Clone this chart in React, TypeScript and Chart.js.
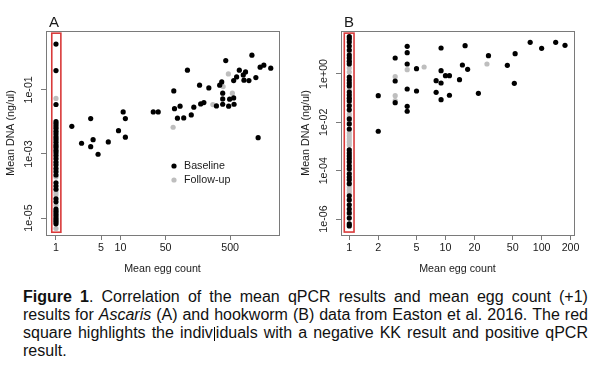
import React, { useEffect, useRef } from "react";
import { Chart, registerables } from "chart.js";

Chart.register(...registerables);

// ---------------- Panel A: Ascaris ----------------
const A_X_TICKS = [1, 5, 10, 50, 500];
const A_X_TICK_LABELS = ["1", "5", "10", "50", "500"];
const A_Y_TICKS = [1e-5, 1e-3, 1e-1];
const A_Y_TICK_LABELS = ["1e-05", "1e-03", "1e-01"];
const A_X_RANGE = [0.745, 2864];
const A_Y_RANGE = [2.95e-6, 6.9];
const A_HIGHLIGHT_X = [0.86, 1.19];
const A_HIGHLIGHT_Y = [3.6e-6, 5.9];

// KK-negative individuals: egg count 0 (+1) = 1
const KK_NEG_EGG_COUNT = 1;
const A_NEG_BASELINE_DNA = [
  2.7, 0.4, 0.035, 0.0102, 0.0087, 0.0074, 0.0063, 0.005, 0.0042, 0.0034, 0.0028,
  0.0023, 0.0019, 0.0016, 0.0013, 0.0011, 8.9e-4, 7.1e-4, 5.6e-4, 4.5e-4, 3.5e-4,
  2.8e-4, 2.2e-4, 1.26e-4, 1.0e-4, 7.9e-5, 4.0e-5, 3.2e-5, 1.9e-5, 1.6e-5, 1.35e-5,
  1.17e-5, 1.0e-5, 8.7e-6, 7.6e-6, 6.6e-6,
];
const A_NEG_FOLLOWUP_DNA = [
  0.054, 0.0054, 0.0032, 0.0018, 5.2e-4, 1.9e-4, 6.3e-5, 5.2e-5, 2.5e-5, 1.7e-5, 4.7e-6,
];
const A_POS_BASELINE_EGGS = [
  1.76, 3.45, 2.49, 3.76, 3.45, 4.49, 6.47, 9.31, 11.0, 11.9, 11.9, 32.2, 38.4, 109, 67,
  68.7, 83.8, 76.4, 95.5, 125, 137, 168, 175, 196, 234, 307, 345, 371, 428, 384, 384,
  384, 475, 492, 568, 576, 568, 631, 695, 800, 868, 820, 979, 1089, 1254, 1461, 1667,
  2134, 1361,
];
const A_POS_BASELINE_DNA = [
  0.0073, 0.0127, 0.00216, 0.0028, 0.00169, 0.00098, 0.00237, 0.00535, 0.0205, 0.0127,
  0.00333, 0.0205, 0.0205, 0.413, 0.0931, 0.026, 0.031, 0.0131, 0.0133, 0.0166, 0.0288,
  0.14, 0.0365, 0.0401, 0.1155, 0.0316, 0.14, 0.178, 0.824, 0.0789, 0.0524, 0.0357,
  0.031, 0.0512, 0.0562, 0.0357, 0.195, 0.255, 0.413, 0.294, 0.365, 0.201, 0.195, 1.21,
  0.242, 0.512, 0.591, 0.476, 0.00323,
];
const A_POS_FOLLOWUP_EGGS = [65.4, 270, 390, 470, 542];
const A_POS_FOLLOWUP_DNA = [0.00683, 0.0347, 0.127, 0.316, 0.0789];

// ---------------- Panel B: hookworm ----------------
const B_X_TICKS = [1, 2, 5, 10, 20, 50, 100, 200];
const B_X_TICK_LABELS = ["1", "2", "5", "10", "20", "50", "100", "200"];
const B_Y_TICKS = [1e-6, 1e-4, 1e-2, 1];
const B_Y_TICK_LABELS = ["1e-06", "1e-04", "1e-02", "1e+00"];
const B_X_RANGE = [0.82, 217];
const B_Y_RANGE = [2.19e-7, 60];
const B_HIGHLIGHT_X = [0.887, 1.12];
const B_HIGHLIGHT_Y = [2.9e-7, 49];

const B_NEG_BASELINE_DNA = [
  35, 28, 21, 14.4, 9.8, 6.1, 4.6, 3.4, 2.6, 0.75, 0.56, 0.42, 0.32, 0.18, 0.135, 0.1,
  0.077, 0.048, 0.033, 0.0138, 0.0086, 0.0053, 7.2e-4, 5.4e-4, 4.1e-4, 3.1e-4, 2.3e-4,
  1.6e-4, 1.2e-4, 7.4e-5, 5.5e-5, 4.2e-5, 2.9e-5, 9.1e-6, 6.2e-6, 3.9e-6, 2.6e-6,
  1.8e-6, 1.1e-6, 6.3e-7, 5.2e-7,
];
const B_NEG_FOLLOWUP_DNA = [
  8.1, 1.77, 1.21, 0.24, 0.058, 0.022, 0.0167, 0.0104, 0.00365, 0.00274, 0.00206,
  0.00155, 0.00116, 9.8e-5, 2.1e-5, 1.6e-5, 1.2e-5, 1.5e-6,
];
const B_POS_BASELINE_EGGS = [
  2, 2, 3, 3, 3, 4, 4, 4, 4, 4, 4, 5, 5, 8, 8, 9, 9, 9, 9, 10, 11, 11, 14, 15, 16, 17,
  22, 28, 44, 52, 53, 76, 100, 140, 175,
];
const B_POS_BASELINE_DNA = [
  0.127, 0.00429, 4.58, 0.514, 0.0652, 13.9, 7.6, 2.59, 0.24, 0.0462, 0.0287, 1.66,
  0.198, 0.529, 0.175, 11.9, 1.37, 0.425, 0.0867, 0.851, 0.851, 0.132, 0.581, 2.35,
  14.8, 1.56, 0.159, 5.7, 2.29, 0.413, 6.9, 20.4, 11.5, 20.4, 15.3,
];
const B_POS_FOLLOWUP_EGGS = [3, 3, 3, 4, 6, 27];
const B_POS_FOLLOWUP_DNA = [0.773, 0.127, 0.0788, 1.51, 1.95, 2.59];

// ---------------- styles ----------------
const FONT = '"Liberation Sans", Arial, Helvetica, sans-serif';
const TEXT = "#1a1a1a";
const AXIS = "#7a7a7a";
const BASE_COLOR = "#000000";
const FOLLOW_COLOR = "#bebebe";
const HIGHLIGHT_COLOR = "#d93a3a";
const AXIS_FONT = 10.7;
const POINT_R = 2.6;

type Spec = {
  letter: string;
  xTicks: number[];
  xTickLabels: string[];
  yTicks: number[];
  yTickLabels: string[];
  xRange: number[];
  yRange: number[];
  hlX: number[];
  hlY: number[];
  negBase: number[];
  negFollow: number[];
  posBaseX: number[];
  posBaseY: number[];
  posFollowX: number[];
  posFollowY: number[];
  legend: boolean;
};

function makeDecor(spec: Spec) {
  return {
    id: "decor" + spec.letter,
    afterDraw(chart: any) {
      const { ctx, chartArea: ca, scales } = chart;
      const xs = scales.x;
      const ys = scales.y;
      ctx.save();
      // plot box
      ctx.strokeStyle = AXIS;
      ctx.lineWidth = 1;
      const l = Math.round(ca.left);
      const t = Math.round(ca.top);
      ctx.strokeRect(l + 0.5, t + 0.5, Math.round(ca.right) - l, Math.round(ca.bottom) - t);
      // highlight rectangle
      const hx0 = xs.getPixelForValue(spec.hlX[0]);
      const hx1 = xs.getPixelForValue(spec.hlX[1]);
      const hy0 = ys.getPixelForValue(spec.hlY[0]);
      const hy1 = ys.getPixelForValue(spec.hlY[1]);
      ctx.strokeStyle = HIGHLIGHT_COLOR;
      ctx.lineWidth = 1.6;
      ctx.strokeRect(hx0, hy1, hx1 - hx0, hy0 - hy1);
      // y tick labels (parallel to axis)
      ctx.fillStyle = TEXT;
      ctx.font = `${AXIS_FONT}px ${FONT}`;
      ctx.textAlign = "center";
      ctx.textBaseline = "middle";
      ys.ticks.forEach((tk: any, i: number) => {
        const py = ys.getPixelForValue(tk.value);
        ctx.save();
        ctx.translate(ca.left - 17, py);
        ctx.rotate(-Math.PI / 2);
        ctx.fillText(spec.yTickLabels[i], 0, 0);
        ctx.restore();
      });
      // panel letter
      ctx.font = `15px ${FONT}`;
      ctx.textAlign = "left";
      ctx.textBaseline = "alphabetic";
      ctx.fillText(spec.letter, ca.left + 3, ca.top - 4);
      // legend
      if (spec.legend) {
        const items = chart.data.datasets;
        ctx.font = `${AXIS_FONT}px ${FONT}`;
        ctx.textBaseline = "middle";
        items.forEach((ds: any, i: number) => {
          const cy = 166 + i * 14;
          ctx.fillStyle = ds.backgroundColor;
          ctx.beginPath();
          ctx.arc(174, cy, POINT_R, 0, Math.PI * 2);
          ctx.fill();
          ctx.fillStyle = TEXT;
          ctx.fillText(ds.label, 184, cy);
        });
      }
      ctx.restore();
    },
  };
}

function buildConfig(spec: Spec): any {
  const baseline = [
    ...spec.negBase.map((y) => ({ x: KK_NEG_EGG_COUNT, y })),
    ...spec.posBaseX.map((x, i) => ({ x, y: spec.posBaseY[i] })),
  ];
  const follow = [
    ...spec.negFollow.map((y) => ({ x: KK_NEG_EGG_COUNT, y })),
    ...spec.posFollowX.map((x, i) => ({ x, y: spec.posFollowY[i] })),
  ];
  const tickFont = { family: FONT, size: AXIS_FONT };
  const grid = {
    drawOnChartArea: false,
    drawTicks: true,
    tickLength: 5,
    color: AXIS,
    lineWidth: 1,
  };
  return {
    type: "scatter",
    data: {
      datasets: [
        {
          label: "Baseline",
          data: baseline,
          backgroundColor: BASE_COLOR,
          borderWidth: 0,
          pointRadius: POINT_R,
          pointHoverRadius: POINT_R,
        },
        {
          label: "Follow-up",
          data: follow,
          backgroundColor: FOLLOW_COLOR,
          borderWidth: 0,
          pointRadius: POINT_R,
          pointHoverRadius: POINT_R,
        },
      ],
    },
    options: {
      animation: false,
      responsive: false,
      maintainAspectRatio: false,
      devicePixelRatio: 1,
      events: [],
      layout: { padding: { left: 0, top: 31, right: 21, bottom: 0 } },
      plugins: { legend: { display: false }, tooltip: { enabled: false } },
      scales: {
        x: {
          type: "logarithmic",
          position: "bottom",
          min: spec.xRange[0],
          max: spec.xRange[1],
          afterBuildTicks: (s: any) => {
            s.ticks = spec.xTicks.map((v) => ({ value: v }));
          },
          afterFit: (s: any) => {
            s.height = 45;
          },
          ticks: {
            autoSkip: false,
            maxRotation: 0,
            minRotation: 0,
            padding: 2,
            color: TEXT,
            font: tickFont,
            callback: (_v: any, i: number) => spec.xTickLabels[i],
          },
          grid,
          border: { display: false },
          title: {
            display: true,
            text: "Mean egg count",
            color: TEXT,
            font: tickFont,
            padding: { top: 0, bottom: 5 },
          },
        },
        y: {
          type: "logarithmic",
          position: "left",
          min: spec.yRange[0],
          max: spec.yRange[1],
          afterBuildTicks: (s: any) => {
            s.ticks = spec.yTicks.map((v) => ({ value: v }));
          },
          afterFit: (s: any) => {
            s.width = 46;
          },
          ticks: {
            autoSkip: false,
            color: "rgba(0,0,0,0)",
            font: tickFont,
            callback: (_v: any, i: number) => spec.yTickLabels[i],
          },
          grid,
          border: { display: false },
          title: {
            display: true,
            text: "Mean DNA (ng/ul)",
            color: TEXT,
            font: tickFont,
            padding: { top: 5, bottom: 0 },
          },
        },
      },
    },
    plugins: [makeDecor(spec)],
  };
}

const SPEC_A: Spec = {
  letter: "A",
  xTicks: A_X_TICKS,
  xTickLabels: A_X_TICK_LABELS,
  yTicks: A_Y_TICKS,
  yTickLabels: A_Y_TICK_LABELS,
  xRange: A_X_RANGE,
  yRange: A_Y_RANGE,
  hlX: A_HIGHLIGHT_X,
  hlY: A_HIGHLIGHT_Y,
  negBase: A_NEG_BASELINE_DNA,
  negFollow: A_NEG_FOLLOWUP_DNA,
  posBaseX: A_POS_BASELINE_EGGS,
  posBaseY: A_POS_BASELINE_DNA,
  posFollowX: A_POS_FOLLOWUP_EGGS,
  posFollowY: A_POS_FOLLOWUP_DNA,
  legend: true,
};

const SPEC_B: Spec = {
  letter: "B",
  xTicks: B_X_TICKS,
  xTickLabels: B_X_TICK_LABELS,
  yTicks: B_Y_TICKS,
  yTickLabels: B_Y_TICK_LABELS,
  xRange: B_X_RANGE,
  yRange: B_Y_RANGE,
  hlX: B_HIGHLIGHT_X,
  hlY: B_HIGHLIGHT_Y,
  negBase: B_NEG_BASELINE_DNA,
  negFollow: B_NEG_FOLLOWUP_DNA,
  posBaseX: B_POS_BASELINE_EGGS,
  posBaseY: B_POS_BASELINE_DNA,
  posFollowX: B_POS_FOLLOWUP_EGGS,
  posFollowY: B_POS_FOLLOWUP_DNA,
  legend: false,
};

function Panel({ spec, left }: { spec: Spec; left: number }) {
  const ref = useRef<HTMLCanvasElement | null>(null);
  useEffect(() => {
    if (!ref.current) return;
    const chart = new Chart(ref.current, buildConfig(spec));
    return () => chart.destroy();
  }, [spec]);
  return (
    <canvas
      ref={ref}
      width={300}
      height={280}
      style={{ position: "absolute", left, top: 0, width: 300, height: 280 }}
    />
  );
}

const LINE_H = 18;

const lineStyle: React.CSSProperties = {
  display: "flex",
  justifyContent: "space-between",
  whiteSpace: "nowrap",
  height: LINE_H,
  lineHeight: `${LINE_H}px`,
};

function Line({ words }: { words: React.ReactNode[] }) {
  return (
    <div style={lineStyle}>
      {words.map((w, i) => (
        <span key={i}>{w}</span>
      ))}
    </div>
  );
}

export default function App() {
  const caret = (
    <span
      style={{
        display: "inline-block",
        width: 1,
        height: 14,
        background: "#000",
        verticalAlign: -3,
        margin: "0 1px",
      }}
    />
  );
  return (
    <div
      style={{
        position: "absolute",
        left: 0,
        top: 0,
        width: 600,
        height: 373,
        background: "#fff",
        overflow: "hidden",
      }}
    >
      <Panel spec={SPEC_A} left={0} />
      <Panel spec={SPEC_B} left={295} />
      <div
        style={{
          position: "absolute",
          left: 23,
          top: 288,
          width: 565,
          fontFamily: FONT,
          fontSize: 16,
          color: "#111",
        }}
      >
        <Line
          words={[
            <b>Figure</b>,
            <>
              <b>1</b>.
            </>,
            "Correlation",
            "of",
            "the",
            "mean",
            "qPCR",
            "results",
            "and",
            "mean",
            "egg",
            "count",
            "(+1)",
          ]}
        />
        <Line
          words={[
            "results",
            "for",
            <i>Ascaris</i>,
            "(A)",
            "and",
            "hookworm",
            "(B)",
            "data",
            "from",
            "Easton",
            "et",
            "al.",
            "2016.",
            "The",
            "red",
          ]}
        />
        <Line
          words={[
            "square",
            "highlights",
            "the",
            <>
              indiv{caret}iduals
            </>,
            "with",
            "a",
            "negative",
            "KK",
            "result",
            "and",
            "positive",
            "qPCR",
          ]}
        />
        <div style={{ height: LINE_H, lineHeight: `${LINE_H}px`, whiteSpace: "nowrap" }}>
          result.
        </div>
      </div>
    </div>
  );
}
